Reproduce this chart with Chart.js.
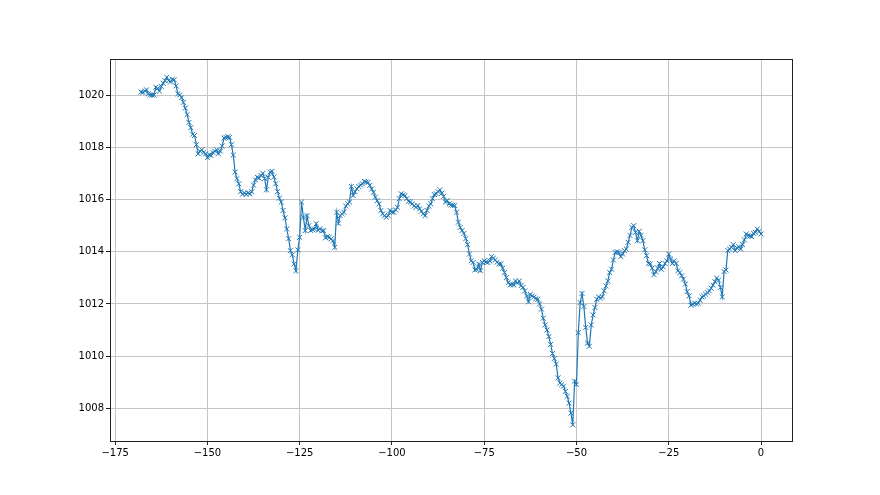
<!DOCTYPE html>
<html>
<head>
<meta charset="utf-8">
<script src="https://cdn.jsdelivr.net/npm/chart.js@4.4.0/dist/chart.umd.min.js"></script>
<style>
  html, body { margin: 0; padding: 0; background: #fff; }
  #chart { display: block; }
</style>
</head>
<body>
<canvas id="chart" width="880" height="495"></canvas>
<script>
// Half-hourly pressure readings (hPa), hours relative to now
const startHour = -168;
const stepHours = 0.5;

// -168 .. -143
const pressureA = [
  1020.12, 1020.1, 1020.15, 1020.2, 1020.05, 1020.0, 1020.0, 1020.0, 1020.3, 1020.25,
  1020.15, 1020.33, 1020.45, 1020.55, 1020.68, 1020.55, 1020.5, 1020.6, 1020.58, 1020.35,
  1020.05, 1020.0, 1019.9, 1019.72, 1019.5, 1019.25, 1018.95, 1018.75, 1018.5, 1018.45,
  1018.1, 1017.75, 1017.85, 1017.9, 1017.8, 1017.75, 1017.6, 1017.72, 1017.68, 1017.8,
  1017.85, 1017.9, 1017.75, 1017.85, 1018.05, 1018.35, 1018.38, 1018.4, 1018.38, 1018.1,
  1017.7
];
// -142.5 .. -116.5
const pressureB = [
  1017.05, 1016.8, 1016.6, 1016.3, 1016.2, 1016.25, 1016.2, 1016.25, 1016.22, 1016.3,
  1016.55, 1016.75, 1016.85, 1016.82, 1016.92, 1017.0, 1016.8, 1016.37, 1016.85, 1017.05,
  1017.08, 1016.86, 1016.6, 1016.3, 1016.05, 1015.9, 1015.58, 1015.3, 1014.87, 1014.5,
  1014.04, 1013.88, 1013.53, 1013.27, 1014.07, 1014.55, 1015.9, 1015.32, 1014.81, 1015.38,
  1015.0, 1014.81, 1014.85, 1014.87, 1015.07, 1014.82, 1014.88, 1014.8, 1014.81, 1014.53,
  1014.58, 1014.55, 1014.49
];
// -116 .. -87.5
const pressureC = [
  1014.42, 1014.17, 1015.51, 1015.09, 1015.38, 1015.45, 1015.51, 1015.75, 1015.83, 1015.9,
  1016.5, 1016.15, 1016.3, 1016.41, 1016.5, 1016.55, 1016.6, 1016.69, 1016.67, 1016.65,
  1016.54, 1016.4, 1016.28, 1016.09, 1015.95, 1015.83, 1015.58, 1015.45, 1015.38, 1015.32,
  1015.38, 1015.58, 1015.51, 1015.51, 1015.6, 1015.7, 1016.03, 1016.22, 1016.18, 1016.15,
  1016.03, 1015.93, 1015.9, 1015.83, 1015.75, 1015.7, 1015.77, 1015.64, 1015.55, 1015.45,
  1015.38, 1015.58, 1015.75, 1015.83, 1016.03, 1016.19, 1016.22, 1016.3
];
// -87 .. -60.5
const pressureD = [
  1016.37, 1016.24, 1016.12, 1015.9, 1015.96, 1015.83, 1015.79, 1015.78, 1015.77, 1015.51,
  1015.13, 1014.93, 1014.81, 1014.7, 1014.5, 1014.27, 1013.91, 1013.65, 1013.59, 1013.3,
  1013.32, 1013.53, 1013.27, 1013.59, 1013.65, 1013.6, 1013.59, 1013.65, 1013.81, 1013.75,
  1013.68, 1013.6, 1013.53, 1013.53, 1013.37, 1013.2, 1013.01, 1012.82, 1012.73, 1012.75,
  1012.73, 1012.88, 1012.8, 1012.88, 1012.7, 1012.63, 1012.5, 1012.3, 1012.08, 1012.37,
  1012.3, 1012.27, 1012.2, 1012.18
];
// -60 .. -45.5
const pressureE = [
  1012.0, 1011.8, 1011.45, 1011.2, 1011.0, 1010.75, 1010.45, 1010.1, 1009.91, 1009.7,
  1009.17, 1008.97, 1008.91, 1008.85, 1008.65, 1008.46, 1008.2, 1007.82, 1007.37, 1009.04,
  1008.91, 1010.9, 1012.05, 1012.4, 1011.9, 1011.1, 1010.5, 1010.38, 1011.19, 1011.58
];
// -45 .. 0
const pressureF = [
  1011.86, 1012.18, 1012.27, 1012.22, 1012.27, 1012.5, 1012.69, 1012.88, 1013.2, 1013.33,
  1013.68, 1013.97, 1014.0, 1013.97, 1013.81, 1013.91, 1014.04, 1014.1, 1014.36, 1014.62,
  1014.93, 1015.0, 1014.74, 1014.42, 1014.78, 1014.62, 1014.42, 1014.07, 1013.85, 1013.55,
  1013.53, 1013.37, 1013.12, 1013.23, 1013.37, 1013.55, 1013.33, 1013.42, 1013.55, 1013.65,
  1013.91, 1013.72, 1013.55, 1013.65, 1013.55, 1013.27, 1013.2, 1013.08, 1012.95, 1012.76,
  1012.47, 1012.31, 1011.95, 1011.99, 1012.03, 1012.0, 1012.03, 1012.14, 1012.27, 1012.3,
  1012.37, 1012.43, 1012.5, 1012.6, 1012.72, 1012.85, 1012.99, 1012.91, 1012.63, 1012.27,
  1013.24, 1013.3, 1014.04, 1014.1, 1014.17, 1014.27, 1014.04, 1014.15, 1014.19, 1014.1,
  1014.27, 1014.45, 1014.68, 1014.62, 1014.6, 1014.58, 1014.7, 1014.74, 1014.87, 1014.78,
  1014.68
];

const xTicks = [-175, -150, -125, -100, -75, -50, -25, 0];
const yTicks = [1008, 1010, 1012, 1014, 1016, 1018, 1020];

const pressure = [].concat(pressureA, pressureB, pressureC, pressureD, pressureE, pressureF);
const points = pressure.map((p, i) => ({ x: startHour + i * stepHours, y: p }));

// matplotlib style minus sign
const fmt = v => String(v).replace('-', '\u2212');

// dark box round the plot area
const frame = {
  id: 'frame',
  afterDraw(chart) {
    const a = chart.chartArea;
    const ctx = chart.ctx;
    ctx.save();
    ctx.strokeStyle = '#222';
    ctx.lineWidth = 1;
    ctx.strokeRect(Math.round(a.left) + 0.5, Math.round(a.top) + 0.5,
      Math.round(a.right - a.left), Math.round(a.bottom - a.top));
    ctx.restore();
  }
};

const tickFont = { family: 'DejaVu Sans', size: 10 };
const gridStyle = { color: '#c4c4c4', lineWidth: 1, drawTicks: true, tickLength: 4, tickColor: '#222', tickWidth: 1 };

new Chart(document.getElementById('chart'), {
  type: 'line',
  data: {
    datasets: [{
      data: points,
      borderColor: '#1f77b4',
      borderWidth: 1.2,
      pointStyle: 'crossRot',
      pointRadius: 3.5,
      pointBorderColor: '#1f77b4',
      pointBorderWidth: 1,
      pointBackgroundColor: 'transparent',
      tension: 0,
      fill: false
    }]
  },
  options: {
    responsive: false,
    animation: false,
    devicePixelRatio: 1,
    events: [],
    layout: { padding: { left: 0, top: 59, right: 88, bottom: 0 } },
    plugins: { legend: { display: false }, tooltip: { enabled: false } },
    scales: {
      x: {
        type: 'linear',
        min: -176.4,
        max: 8.4,
        afterBuildTicks: s => { s.ticks = xTicks.map(v => ({ value: v })); },
        afterFit: s => { s.height = 54; },
        border: { display: false },
        grid: gridStyle,
        ticks: { color: '#000', font: tickFont, padding: 2, maxRotation: 0, callback: v => fmt(v) }
      },
      y: {
        type: 'linear',
        min: 1006.75,
        max: 1021.38,
        afterBuildTicks: s => { s.ticks = yTicks.map(v => ({ value: v })); },
        afterFit: s => { s.width = 110; },
        border: { display: false },
        grid: gridStyle,
        ticks: { color: '#000', font: tickFont, padding: 2, callback: v => fmt(v) }
      }
    }
  },
  plugins: [frame]
});
</script>
</body>
</html>
